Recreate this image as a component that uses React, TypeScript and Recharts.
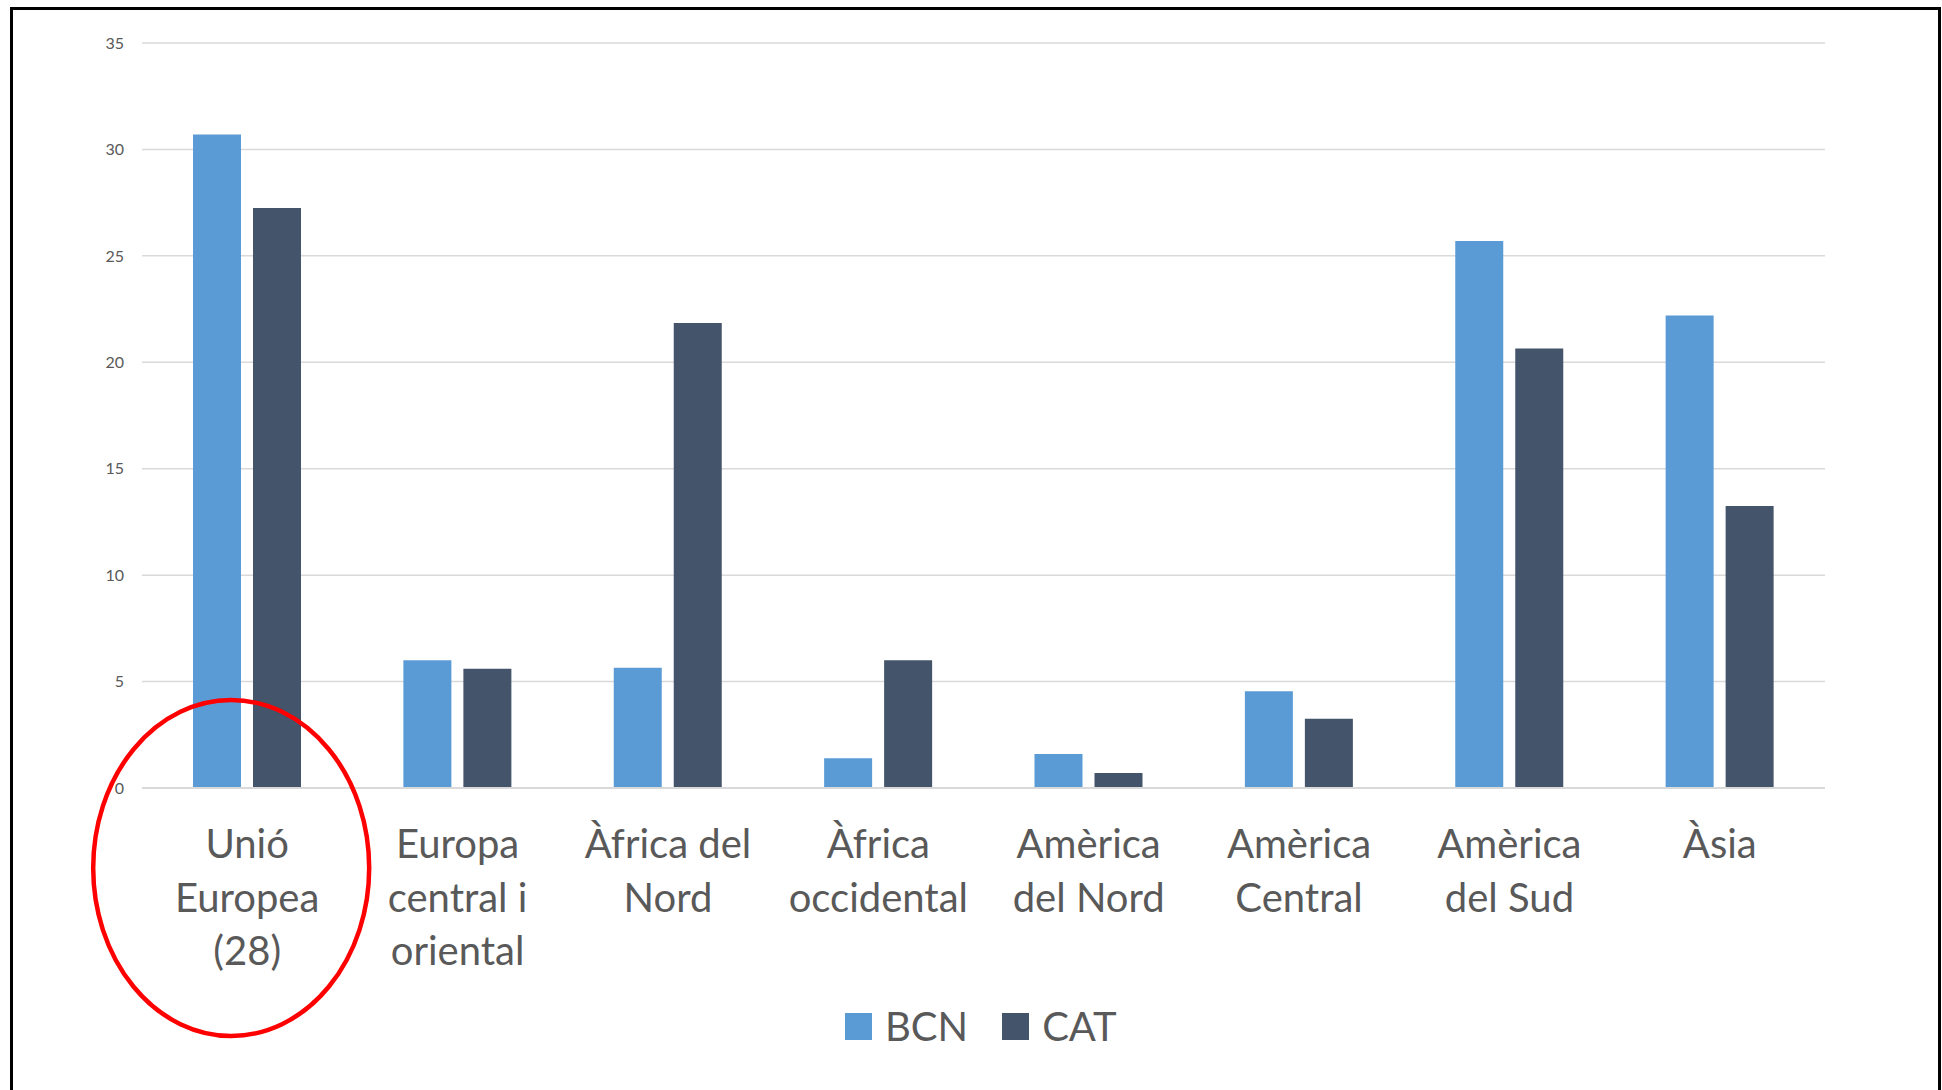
import { BarChart, Bar, XAxis, YAxis, CartesianGrid, ReferenceDot } from 'recharts';

const categories = [
  'Unió Europea (28)',
  'Europa central i oriental',
  'Àfrica del Nord',
  'Àfrica occidental',
  'Amèrica del Nord',
  'Amèrica Central',
  'Amèrica del Sud',
  'Àsia',
];

// how each category label wraps under the axis
const categoryLines = [
  ['Unió', 'Europea', '(28)'],
  ['Europa', 'central i', 'oriental'],
  ['Àfrica del', 'Nord'],
  ['Àfrica', 'occidental'],
  ['Amèrica', 'del Nord'],
  ['Amèrica', 'Central'],
  ['Amèrica', 'del Sud'],
  ['Àsia'],
];

const bcnValues = [30.7, 6.0, 5.65, 1.4, 1.6, 4.55, 25.7, 22.2];
const catValues = [27.25, 5.6, 21.85, 6.0, 0.7, 3.25, 20.65, 13.25];

const yTicks = [0, 5, 10, 15, 20, 25, 30, 35];

const SERIES = [
  { key: 'BCN', color: '#5B9BD5' },
  { key: 'CAT', color: '#44546A' },
];

const FONT = 'Lato, "Open Sans", sans-serif';
const TEXT = '#595959';
const GRID = '#D9D9D9';

const chartData = categories.map((name, i) => ({
  name,
  BCN: bcnValues[i],
  CAT: catValues[i],
}));

function CategoryTick(props: { x?: number; y?: number; index?: number; payload?: { value: string } }) {
  const { x = 0, y = 0, payload } = props;
  const idx = categories.indexOf(payload?.value ?? '');
  const lines = categoryLines[idx] ?? [payload?.value ?? ''];
  return (
    <text x={x} y={y} textAnchor="middle" fill={TEXT} fontSize={40} fontFamily={FONT}>
      {lines.map((line, i) => (
        <tspan key={i} x={x} y={y + 70 + i * 53.5}>
          {line}
        </tspan>
      ))}
    </text>
  );
}

// red highlight around the first category
function HighlightEllipse(props: { cx?: number; cy?: number }) {
  const { cx = 0, cy = 0 } = props;
  return (
    <ellipse cx={cx - 16} cy={cy + 80} rx={138} ry={168} fill="none" stroke="#FF0000" strokeWidth={4.5} />
  );
}

export default function App() {
  return (
    <div style={{ position: 'absolute', left: 0, top: 0, width: 1942, height: 1090, background: '#fff', overflow: 'hidden' }}>
      {/* slide frame */}
      <div
        style={{
          position: 'absolute',
          left: 10,
          top: 7,
          width: 1925,
          height: 1200,
          border: '3px solid #000',
        }}
      />
      <div style={{ position: 'absolute', left: 0, top: 0 }}>
        <BarChart
          width={1942}
          height={1090}
          data={chartData}
          margin={{ top: 43, right: 117, left: 0, bottom: 0 }}
          barSize={48}
          barGap={12}
        >
          <CartesianGrid vertical={false} stroke={GRID} strokeWidth={1.5} />
          <XAxis
            dataKey="name"
            height={302}
            interval={0}
            axisLine={{ stroke: GRID, strokeWidth: 2 }}
            tickLine={false}
            tickSize={0}
            tickMargin={0}
            tick={<CategoryTick />}
          />
          <YAxis
            width={142}
            domain={[0, 35]}
            ticks={yTicks}
            axisLine={false}
            tickLine={false}
            tickMargin={12}
            tick={{ fontSize: 16, fill: TEXT, fontFamily: FONT }}
          />
          {SERIES.map(s => (
            <Bar key={s.key} dataKey={s.key} fill={s.color} isAnimationActive={false} />
          ))}
          <ReferenceDot
            x={categories[0]}
            y={0}
            ifOverflow="visible"
            shape={(p: { cx?: number; cy?: number }) => <HighlightEllipse {...p} />}
          />
        </BarChart>
      </div>
      {/* legend */}
      <div
        style={{
          position: 'absolute',
          left: 845,
          top: 1006,
          display: 'flex',
          alignItems: 'center',
          fontFamily: FONT,
          fontSize: 40,
          lineHeight: '40px',
          color: TEXT,
        }}
      >
        {SERIES.map((s, i) => (
          <div key={s.key} style={{ display: 'flex', alignItems: 'center', marginLeft: i === 0 ? 0 : 34 }}>
            <div style={{ width: 27, height: 27, background: s.color }} />
            <span style={{ marginLeft: 13 }}>{s.key}</span>
          </div>
        ))}
      </div>
    </div>
  );
}
